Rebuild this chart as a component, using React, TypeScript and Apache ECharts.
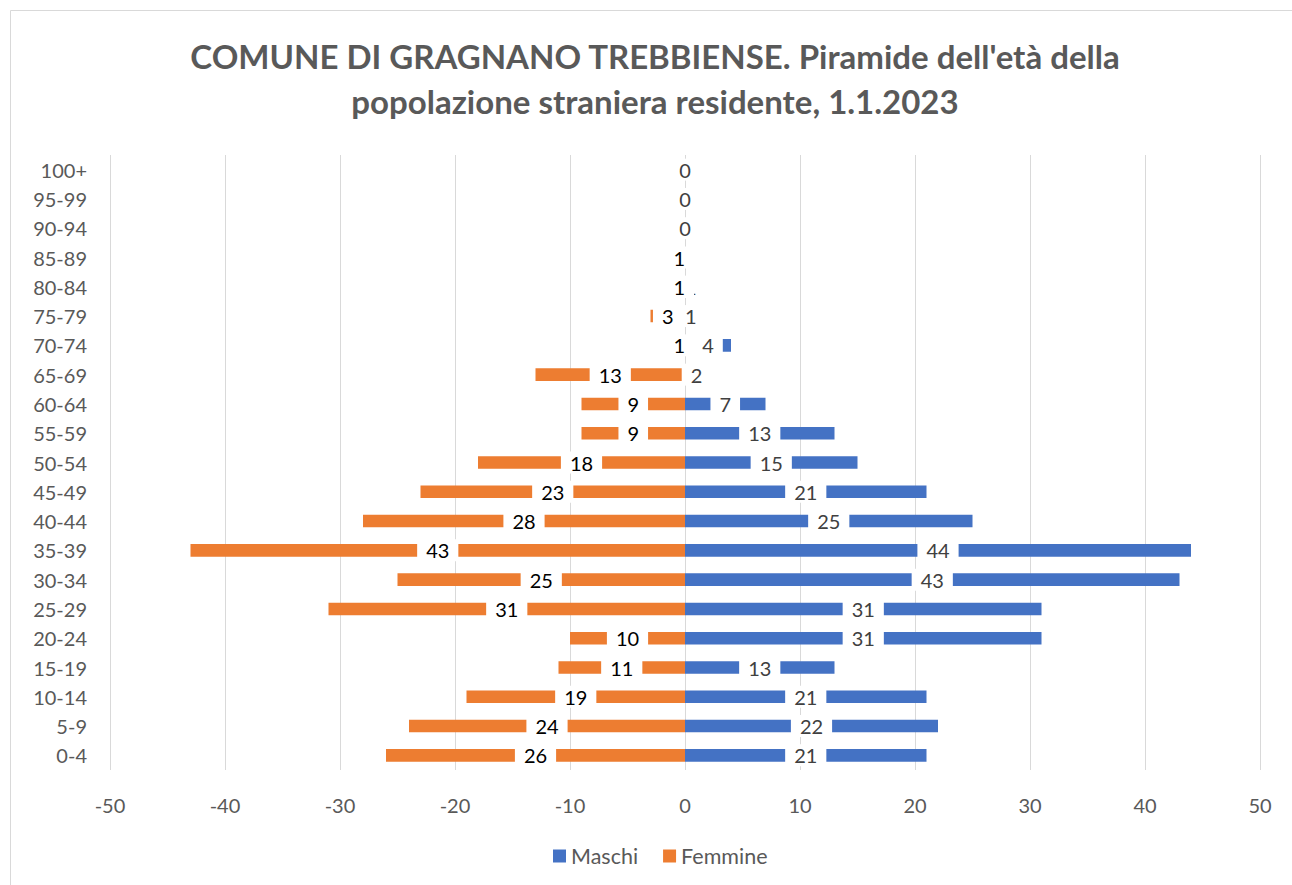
import React, { useEffect, useRef } from "react";
import * as echarts from "echarts";

const categories = [
  "0-4", "5-9", "10-14", "15-19", "20-24", "25-29", "30-34", "35-39", "40-44", "45-49",
  "50-54", "55-59", "60-64", "65-69", "70-74", "75-79", "80-84", "85-89", "90-94", "95-99", "100+",
];
const maschi: (number | null)[] = [21, 22, 21, 13, 31, 31, 43, 44, 25, 21, 15, 13, 7, 2, 4, 1, 1, null, 0, 0, 0];
const femmine: (number | null)[] = [26, 24, 19, 11, 10, 31, 25, 43, 28, 23, 18, 9, 9, 13, 1, 3, 1, 1, null, null, null];
const xTicks = { min: -50, max: 50, interval: 10 };

const TITLE = "COMUNE DI GRAGNANO TREBBIENSE. Piramide dell'età della\npopolazione straniera residente, 1.1.2023";
const FONT = "Lato, 'Noto Sans', sans-serif";

export default function App() {
  const ref = useRef<HTMLDivElement>(null);
  useEffect(() => {
    document.body.style.margin = "0";
    const chart = echarts.init(ref.current!, null, { renderer: "svg" });
    chart.setOption({
      animation: false,
      backgroundColor: "#ffffff",
      textStyle: { fontFamily: FONT },
      title: {
        text: TITLE,
        left: 655,
        textAlign: "center",
        top: 33,
        padding: 0,
        textStyle: {
          fontFamily: FONT,
          fontWeight: "bold",
          fontSize: 33,
          lineHeight: 45,
          color: "#595959",
        },
      },
      graphic: [
        {
          type: "rect",
          shape: { x: 10.5, y: 10.5, width: 1300, height: 900 },
          style: { fill: "none", stroke: "#D9D9D9", lineWidth: 1 },
          silent: true,
          z: -1,
        },
      ],
      legend: {
        data: ["Maschi", "Femmine"],
        left: 548,
        top: 840,
        itemWidth: 13,
        itemHeight: 13,
        itemGap: 25,
        icon: "rect",
        textStyle: { fontFamily: FONT, fontSize: 21.5, color: "#595959" },
      },
      grid: { left: 110, right: 32, top: 155, bottom: 115, containLabel: false },
      xAxis: {
        type: "value",
        min: xTicks.min,
        max: xTicks.max,
        interval: xTicks.interval,
        axisLine: { show: false },
        axisTick: { show: false },
        axisLabel: { fontFamily: FONT, fontSize: 20, color: "#595959", margin: 25 },
        splitLine: { show: true, lineStyle: { color: "#D9D9D9", width: 1 } },
      },
      yAxis: {
        type: "category",
        data: categories,
        axisLine: { show: false },
        axisTick: { show: false },
        splitLine: { show: false },
        axisLabel: { fontFamily: FONT, fontSize: 20, color: "#595959", margin: 23 },
      },
      series: [
        {
          name: "Maschi",
          type: "bar",
          data: maschi,
          barWidth: "43%",
          barGap: "-100%",
          itemStyle: { color: "#4472C4" },
          label: {
            show: true,
            position: "inside",
            color: "#404040",
            fontFamily: FONT,
            fontSize: 20,
            backgroundColor: "#ffffff",
            padding: [1, 9],
          },
        },
        {
          name: "Femmine",
          type: "bar",
          data: femmine.map((v) => (v == null ? null : -v)),
          barWidth: "43%",
          barGap: "-100%",
          itemStyle: { color: "#ED7D31" },
          label: {
            show: true,
            position: "inside",
            color: "#000000",
            fontFamily: FONT,
            fontSize: 20,
            backgroundColor: "#ffffff",
            padding: [1, 9],
            formatter: (p: any) => String(Math.abs(p.value)),
          },
        },
      ],
    });
    return () => chart.dispose();
  }, []);
  return <div ref={ref} style={{ width: 1292, height: 885 }} />;
}
